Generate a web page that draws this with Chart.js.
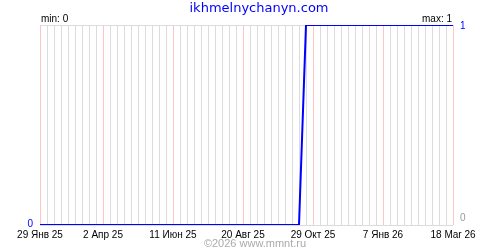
<!DOCTYPE html>
<html>
<head>
<meta charset="utf-8">
<script src="https://cdn.jsdelivr.net/npm/chart.js@4"></script>
<style>
  html, body { margin: 0; padding: 0; background: #fff; }
  #wrap { width: 500px; height: 250px; position: relative; }
</style>
</head>
<body>
<div id="wrap"><canvas id="count-chart" width="500" height="250"></canvas></div>
<script>
// weekly values, 29 Jan 25 .. 18 Mar 26
const values = [
  0, 0, 0, 0, 0, 0, 0, 0, 0, 0,
  0, 0, 0, 0, 0, 0, 0, 0, 0, 0,
  0, 0, 0, 0, 0, 0, 0, 0, 0, 0,
  0, 0, 0, 0, 0, 0, 0, 0, 1, 1,
  1, 1, 1, 1, 1, 1, 1, 1, 1, 1,
  1, 1, 1, 1, 1, 1, 1, 1, 1, 1
];
const tickIndex = [0, 9, 19, 29, 39, 49, 59];
const tickLabels = ['29 Янв 25', '2 Апр 25', '11 Июн 25', '20 Авг 25', '29 Окт 25', '7 Янв 26', '18 Mar 26'];
const titleText = 'ikhmelnychanyn.com';
const footerText = '©2026 www.mmnt.ru';
const minValue = 0;
const maxValue = 1;

// one category per week
const start = new Date(2025, 0, 29);
const weeks = values.map(function (v, i) {
  const d = new Date(start.getTime());
  d.setDate(d.getDate() + i * 7);
  return d.toISOString().slice(0, 10);
});

const font = '"Liberation Sans", Arial, sans-serif';

const extras = {
  id: 'extras',
  afterDraw(chart) {
    const c = chart.ctx;
    const a = chart.chartArea;
    c.save();
    c.fillStyle = '#0000ff';
    c.font = '13px "DejaVu Sans", sans-serif';
    c.textAlign = 'center';
    c.textBaseline = 'alphabetic';
    c.fillText(titleText, 259, 12);

    c.fillStyle = '#000';
    c.font = '10px ' + font;
    c.textAlign = 'left';
    c.fillText('min: ' + minValue, a.left + 1, 22);
    c.textAlign = 'right';
    c.fillText('max: ' + maxValue, a.right - 1, 22);

    c.fillStyle = '#0000ff';
    c.textAlign = 'left';
    c.fillText(String(maxValue), a.right + 7, 29);
    c.textAlign = 'right';
    c.fillText(String(minValue), a.left - 7, 227);

    c.fillStyle = '#999';
    c.textAlign = 'left';
    c.fillText('0', a.right + 7, 221);

    c.fillStyle = '#aaa';
    c.textAlign = 'center';
    c.font = '11px ' + font;
    c.fillText(footerText, 255, 247);
    c.restore();
  }
};

const ctx = document.getElementById('count-chart');

const count_chart = new Chart(ctx, {
  type: 'line',
  data: {
    labels: weeks,
    datasets: [{
      data: values,
      borderColor: '#0000ff',
      borderWidth: 2,
      pointRadius: 0,
      tension: 0
    }]
  },
  options: {
    responsive: false,
    animation: false,
    layout: { padding: { left: 40, right: 47, top: 25, bottom: 0 } },
    plugins: {
      legend: { display: false },
      tooltip: { enabled: false }
    },
    scales: {
      x: {
        offset: false,
        border: { display: false },
        grid: {
          drawTicks: false,
          color: function (c) {
            return tickIndex.indexOf(c.index) >= 0 ? '#ffc4c4' : '#dcdcdc';
          }
        },
        ticks: {
          autoSkip: false,
          maxRotation: 0,
          padding: 4,
          color: '#000',
          font: { family: font, size: 10 },
          callback: function (v, i) {
            const k = tickIndex.indexOf(i);
            return k >= 0 ? tickLabels[k] : '';
          }
        },
        afterFit: function (s) { s.height = 25; }
      },
      y: {
        min: 0,
        max: 1,
        border: { display: false },
        grid: { color: '#dcdcdc', drawTicks: false },
        ticks: { display: false, stepSize: 1 },
        afterFit: function (s) { s.width = 0; }
      }
    }
  },
  plugins: [extras]
});
</script>
</body>
</html>
